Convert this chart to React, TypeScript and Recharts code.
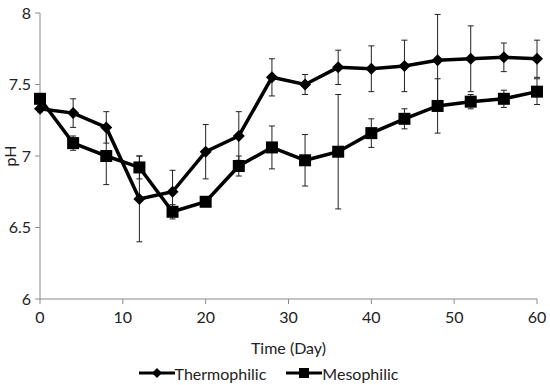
import { ErrorBar, Label, Legend, Line, LineChart, XAxis, YAxis } from 'recharts'

const days = [0, 4, 8, 12, 16, 20, 24, 28, 32, 36, 40, 44, 48, 52, 56, 60]
const thermophilic = [7.33, 7.3, 7.2, 6.7, 6.75, 7.03, 7.14, 7.55, 7.5, 7.62, 7.61, 7.63, 7.67, 7.68, 7.69, 7.68]
const thermophilicErr = [0.02, 0.1, 0.11, 0.3, 0.15, 0.19, 0.17, 0.13, 0.07, 0.12, 0.16, 0.18, 0.32, 0.23, 0.1, 0.13]
const mesophilic = [7.4, 7.09, 7.0, 6.92, 6.61, 6.68, 6.93, 7.06, 6.97, 7.03, 7.16, 7.26, 7.35, 7.38, 7.4, 7.45]
const mesophilicErr = [0.02, 0.05, 0.2, 0.08, 0.05, 0.03, 0.07, 0.15, 0.18, 0.4, 0.1, 0.07, 0.19, 0.05, 0.06, 0.09]
const xTicks = [0, 10, 20, 30, 40, 50, 60]
const yTicks = [6, 6.5, 7, 7.5, 8]

const data = days.map((d, i) => ({
  day: d,
  thermo: thermophilic[i],
  thermoErr: thermophilicErr[i],
  meso: mesophilic[i],
  mesoErr: mesophilicErr[i],
}))

const font = 'Lato, "Open Sans", sans-serif'
const axisColor = '#8a8a8a'
const textStyle = { fill: '#222', fontSize: 16, fontFamily: font }

function Diamond({ cx, cy, r = 6 }: { cx: number; cy: number; r?: number }) {
  return <path d={`M${cx},${cy - r}L${cx + r},${cy}L${cx},${cy + r}L${cx - r},${cy}Z`} fill="#000" />
}

function Square({ cx, cy, s = 6 }: { cx: number; cy: number; s?: number }) {
  return <rect x={cx - s} y={cy - s} width={s * 2} height={s * 2} fill="#000" />
}

function LegendBox() {
  return (
    <div
      style={{
        display: 'flex',
        justifyContent: 'center',
        alignItems: 'center',
        height: 24,
        gap: 20,
        fontFamily: font,
        fontSize: 16,
        color: '#222',
      }}
    >
      <div style={{ display: 'flex', alignItems: 'center' }}>
        <svg width={36} height={14}>
          <line x1={0} y1={7} x2={36} y2={7} stroke="#000" strokeWidth={3} />
          <Diamond cx={18} cy={7} r={5} />
        </svg>
        <span>Thermophilic</span>
      </div>
      <div style={{ display: 'flex', alignItems: 'center' }}>
        <svg width={36} height={14}>
          <line x1={0} y1={7} x2={36} y2={7} stroke="#000" strokeWidth={3} />
          <Square cx={18} cy={7} s={5} />
        </svg>
        <span>Mesophilic</span>
      </div>
    </div>
  )
}

export default function App() {
  return (
    <div style={{ position: 'absolute', left: 0, top: 0, background: '#fff' }}>
      <LineChart width={550} height={385} data={data} margin={{ top: 13, right: 13, bottom: 0, left: 0 }}>
        <XAxis
          dataKey="day"
          type="number"
          domain={[0, 60]}
          ticks={xTicks}
          stroke={axisColor}
          tickSize={5}
          tickMargin={8}
          tick={textStyle}
          height={62}
        >
          <Label value="Time (Day)" position="insideBottom" offset={7} style={textStyle} />
        </XAxis>
        <YAxis
          type="number"
          domain={[6, 8]}
          ticks={yTicks}
          stroke={axisColor}
          tickSize={5}
          tickMargin={4}
          width={40}
          tick={textStyle}
        >
          <Label value="pH" angle={-90} position="insideLeft" offset={10} style={{ ...textStyle, textAnchor: 'middle' }} />
        </YAxis>
        <Legend verticalAlign="bottom" content={() => <LegendBox />} wrapperStyle={{ height: 24 }} />
        <Line
          dataKey="meso"
          stroke="#000"
          strokeWidth={3.5}
          isAnimationActive={false}
          dot={(p: any) => <Square key={`m${p.index}`} cx={p.cx} cy={p.cy} s={6} />}
        >
          <ErrorBar dataKey="mesoErr" direction="y" width={3} stroke="#222" strokeWidth={1} />
        </Line>
        <Line
          dataKey="thermo"
          stroke="#000"
          strokeWidth={3.5}
          isAnimationActive={false}
          dot={(p: any) => <Diamond key={`t${p.index}`} cx={p.cx} cy={p.cy} r={6} />}
        >
          <ErrorBar dataKey="thermoErr" direction="y" width={3} stroke="#222" strokeWidth={1} />
        </Line>
      </LineChart>
    </div>
  )
}
